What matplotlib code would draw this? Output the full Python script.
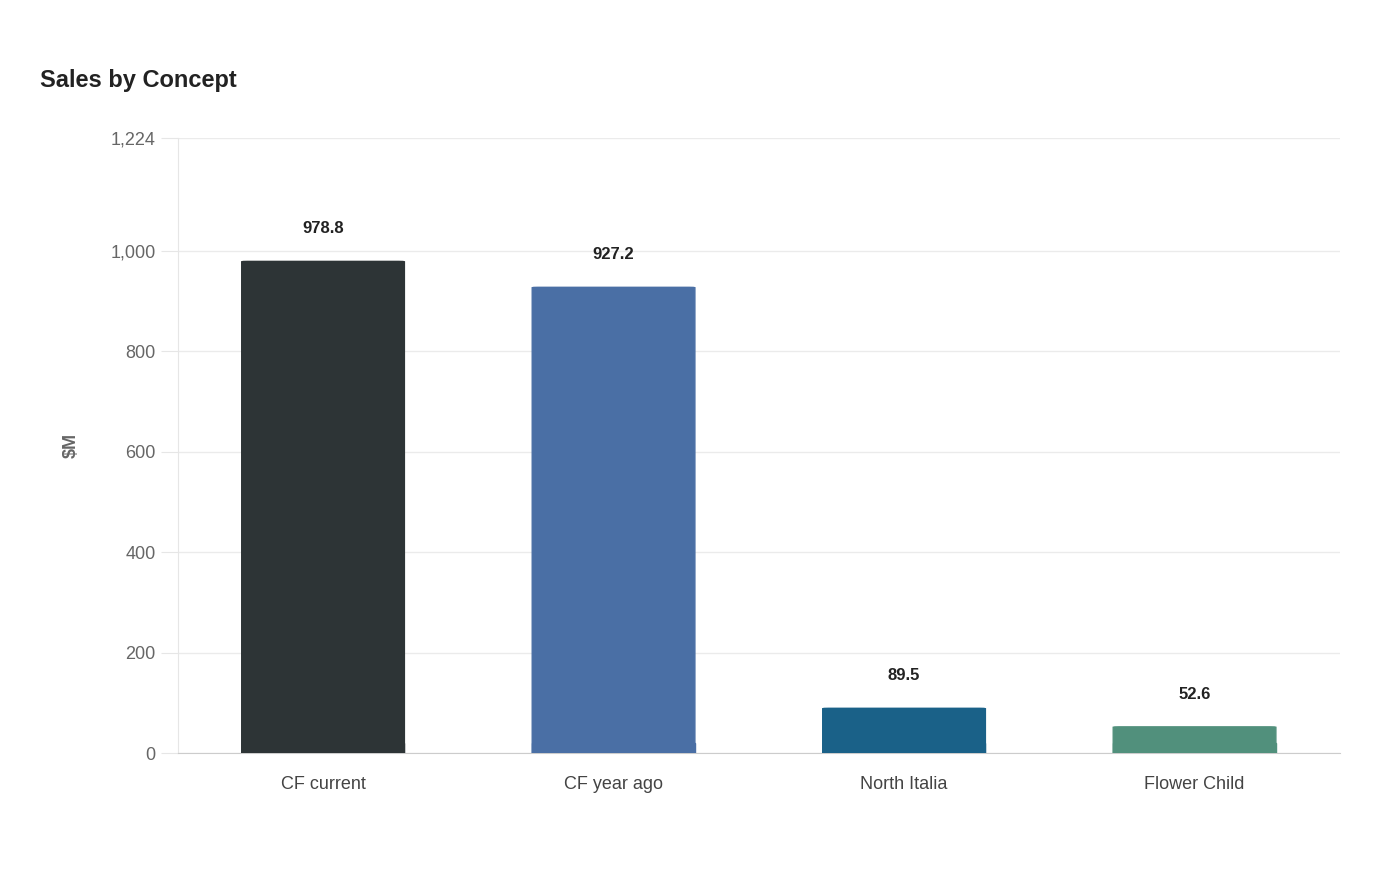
import matplotlib
matplotlib.use("Agg")
import matplotlib.pyplot as plt
from matplotlib.patches import FancyBboxPatch

categories = ["CF current", "CF year ago", "North Italia", "Flower Child"]
values = [978.8, 927.2, 89.5, 52.6]
colors = ["#2d3436", "#4a6fa5", "#1a6188", "#51907c"]
yticks = [0, 200, 400, 600, 800, 1000, 1224]

plt.rcParams['font.family'] = ['Liberation Sans', 'DejaVu Sans']
fig = plt.figure(figsize=(14, 8.8), dpi=100)
ax = fig.add_axes([0.127, 0.144, 0.830, 0.699])
x = list(range(len(categories)))
bars = ax.bar(x, values, width=0.56, color=colors, zorder=3)
for b in bars:
    b.set_visible(False)
    r = 0.02
    p = FancyBboxPatch((b.get_x(), 0), b.get_width(), b.get_height(),
                       boxstyle="round,pad=0,rounding_size=0.02",
                       mutation_aspect=40, color=b.get_facecolor(), zorder=3)
    ax.add_patch(p)
    ax.add_patch(plt.Rectangle((b.get_x(), 0), b.get_width(), min(b.get_height(), 20),
                               color=b.get_facecolor(), zorder=3))
for xi, v in zip(x, values):
    ax.annotate(f"{v:.1f}", (xi, v), xytext=(0, 18), textcoords="offset points",
                ha="center", va="bottom", fontsize=12, fontweight="bold", color="#222222")
ax.set_xlim(-0.5, 3.5)
ax.set_ylim(0, 1224)
ax.set_yticks(yticks)
ax.set_yticklabels([f"{t:,}" for t in yticks])
ax.set_xticks(x)
ax.set_xticklabels(categories)
ax.grid(axis="y", color="#ebebeb", linewidth=1, zorder=0)
for s in ["top", "right"]:
    ax.spines[s].set_visible(False)
ax.spines["left"].set_color("#e6e6e6")
ax.spines["bottom"].set_color("#cccccc")
ax.tick_params(axis="y", colors="#e6e6e6", labelcolor="#666666", labelsize=13, length=12, pad=4)
ax.tick_params(axis="x", length=0, labelcolor="#444444", labelsize=13, pad=16)
ax.set_ylabel("$M", fontsize=13, fontweight="bold", color="#666666", labelpad=22)
fig.text(40/1400, 1-80/880, "Sales by Concept", fontsize=17, fontweight="bold",
         color="#222222", va="center")
fig.savefig("out.png", dpi=100)
